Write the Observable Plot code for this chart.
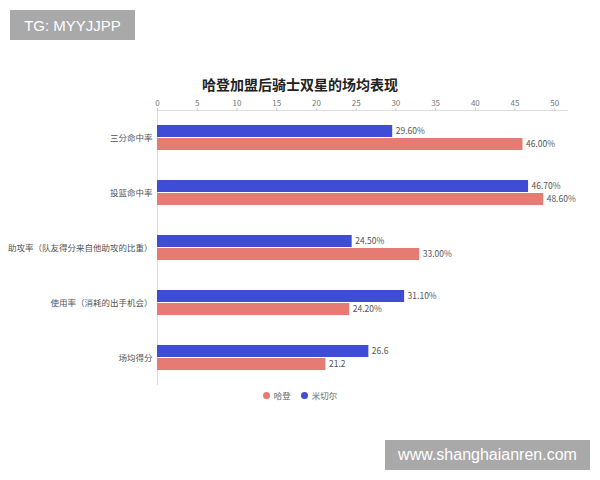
<!DOCTYPE html>
<html><head><meta charset="utf-8">
<script src="https://cdn.jsdelivr.net/npm/d3@7"></script>
<script src="https://cdn.jsdelivr.net/npm/@observablehq/plot@0.6"></script>
<style>
body{margin:0;width:600px;height:480px;background:#fff;position:relative;font-family:"Noto Sans CJK SC","Noto Sans",sans-serif;overflow:hidden}
#title{position:absolute;left:0;top:74px;width:600px;text-align:center;font-size:14px;font-weight:bold;color:#222}
#chart{position:absolute;left:0;top:90px}
#legend{position:absolute;left:0;top:389px;width:600px;display:flex;justify-content:center;gap:10px;font-size:8.5px;color:#666}
#legend span{display:flex;align-items:center;gap:4px}
#legend i{display:inline-block;width:7px;height:7px;border-radius:50%}
.wm{position:absolute;background:#a9a9a9;color:#fff;font-family:"Liberation Sans",sans-serif;display:flex;align-items:center;justify-content:center}
#wm1{left:10px;top:10px;width:125px;height:30px;font-size:15px}
#wm2{left:385px;top:440px;width:205px;height:30px;font-size:16px}
</style></head>
<body>
<div class="wm" id="wm1">TG: MYYJJPP</div>
<div id="title">哈登加盟后骑士双星的场均表现</div>
<div id="chart"></div>
<div id="legend"></div>
<div class="wm" id="wm2">www.shanghaianren.com</div>
<script>
const categories = ["三分命中率","投篮命中率","助攻率（队友得分来自他助攻的比重）","使用率（消耗的出手机会）","场均得分"];
const seriesNames = ["米切尔","哈登"];
const mitchell = [29.6, 46.7, 24.5, 31.1, 26.6];
const harden = [46.0, 48.6, 33.0, 24.2, 21.2];
const mitchellLabels = ["29.60%","46.70%","24.50%","31.10%","26.6"];
const hardenLabels = ["46.00%","48.60%","33.00%","24.20%","21.2"];
const xTicks = [0,5,10,15,20,25,30,35,40,45,50];
const colors = ["#3f4dd6","#e57b72"];

const rows = [];
categories.forEach((c,i)=>{
  rows.push({cat:c, s:seriesNames[0], v:mitchell[i], t:mitchellLabels[i]});
  rows.push({cat:c, s:seriesNames[1], v:harden[i], t:hardenLabels[i]});
});

const chart = Plot.plot({
  width:600, height:300,
  marginTop:20, marginBottom:5, marginLeft:157, marginRight:33,
  style:{fontFamily:'"Noto Sans CJK SC","Noto Sans",sans-serif', background:"transparent"},
  x:{domain:[0,51.6], ticks:xTicks, axis:null},
  y:{domain:seriesNames, axis:null, paddingInner:0.05, paddingOuter:1},
  fy:{domain:categories, padding:0, axis:null},
  color:{domain:seriesNames, range:colors},
  marks:[
    Plot.frame({anchor:"top", stroke:"#ddd", facet:"super"}),
    Plot.ruleX([0], {stroke:"#ddd"}),
    Plot.axisX({anchor:"top", ticks:xTicks, tickSize:3, tickPadding:2, fontSize:8, color:"#777", stroke:"#ccc", label:null}),
    Plot.axisFy({anchor:"left", tickSize:0, tickPadding:5, fontSize:8.5, color:"#555", label:null}),
    Plot.barX(rows, {x:"v", y:"s", fy:"cat", fill:"s"}),
    Plot.text(rows, {x:"v", y:"s", fy:"cat", text:"t", textAnchor:"start", dx:3, fontSize:8.5, fill:"#555"})
  ]
});
document.getElementById("chart").appendChild(chart);

const lg = document.getElementById("legend");
[[seriesNames[1],colors[1]],[seriesNames[0],colors[0]]].forEach(([n,c])=>{
  const s=document.createElement("span");
  s.innerHTML=`<i style="background:${c}"></i>${n}`;
  lg.appendChild(s);
});
</script>
</body></html>
